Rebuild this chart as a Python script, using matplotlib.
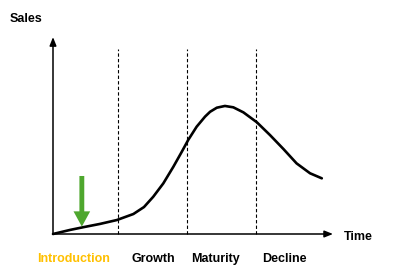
import numpy as np
import matplotlib
matplotlib.use("Agg")
import matplotlib.pyplot as plt

plt.rcParams['font.family'] = ['Liberation Sans', 'DejaVu Sans']

# product life cycle curve (time, sales)
time = [0, 6.1, 10.8, 16.8, 22.8, 28.7, 32.5, 35.8, 39.4, 43.0, 46.0, 48.3,
        51.3, 54.3, 56.1, 58.5, 61.4, 64.4, 68.0, 72.8, 77.5, 82.3, 87.0,
        91.8, 96.0]
sales = [0, 2.1, 3.5, 5.2, 7.2, 10.3, 13.9, 19.2, 26.1, 34.7, 42.4, 48.5,
         55.3, 60.5, 63.0, 65.1, 66.0, 65.3, 62.7, 57.6, 51.0, 43.8, 36.4,
         31.3, 28.7]

phase_bounds = [23.2, 48.0, 72.5]
phase_names = ["Introduction", "Growth", "Maturity", "Decline"]
phase_label_x = [7.3, 35.9, 58.2, 82.5]
phase_colors = ["#FFC000", "black", "black", "black"]

marker_x = 10.3
marker_top, marker_tip = 29.9, 3.8

fig = plt.figure(figsize=(4.14, 2.8), dpi=100)
ax = fig.add_axes([53 / 414, 46 / 280, 280 / 414, 194 / 280])
ax.set_xlim(0, 100)
ax.set_ylim(0, 100)
ax.axis('off')

# axes with arrows
ax.annotate("", xy=(100, 0), xytext=(0, 0), annotation_clip=False,
            arrowprops=dict(arrowstyle='-|>,head_length=0.5,head_width=0.2',
                            color='black', lw=1.1, shrinkA=0, shrinkB=0))
ax.annotate("", xy=(0, 101.5), xytext=(0, 0), annotation_clip=False,
            arrowprops=dict(arrowstyle='-|>,head_length=0.5,head_width=0.2',
                            color='black', lw=1.1, shrinkA=0, shrinkB=0))

for b in phase_bounds:
    ax.plot([b, b], [0, 95.4], color='black', lw=0.8, ls=(0, (3, 2)),
            clip_on=False)

ax.plot(time, sales, color='black', lw=1.9, solid_capstyle='round',
        solid_joinstyle='round', clip_on=False)

ax.annotate("", xy=(marker_x, marker_tip), xytext=(marker_x, marker_top),
            arrowprops=dict(arrowstyle='simple,head_length=1.1,head_width=1.2,tail_width=0.35',
                            color='#4EA72E', lw=0, shrinkA=0, shrinkB=0))

for name, x, c in zip(phase_names, phase_label_x, phase_colors):
    ax.text(x, -13, name, color=c, fontsize=9, fontweight='bold',
            ha='center', va='center', clip_on=False)

fig.text(10 / 414, 1 - 19 / 280, "Sales", fontsize=9, fontweight='bold',
         ha='left', va='center')
fig.text(344 / 414, 1 - 237 / 280, "Time", fontsize=9, fontweight='bold',
         ha='left', va='center')

fig.savefig("out.png", dpi=100)
